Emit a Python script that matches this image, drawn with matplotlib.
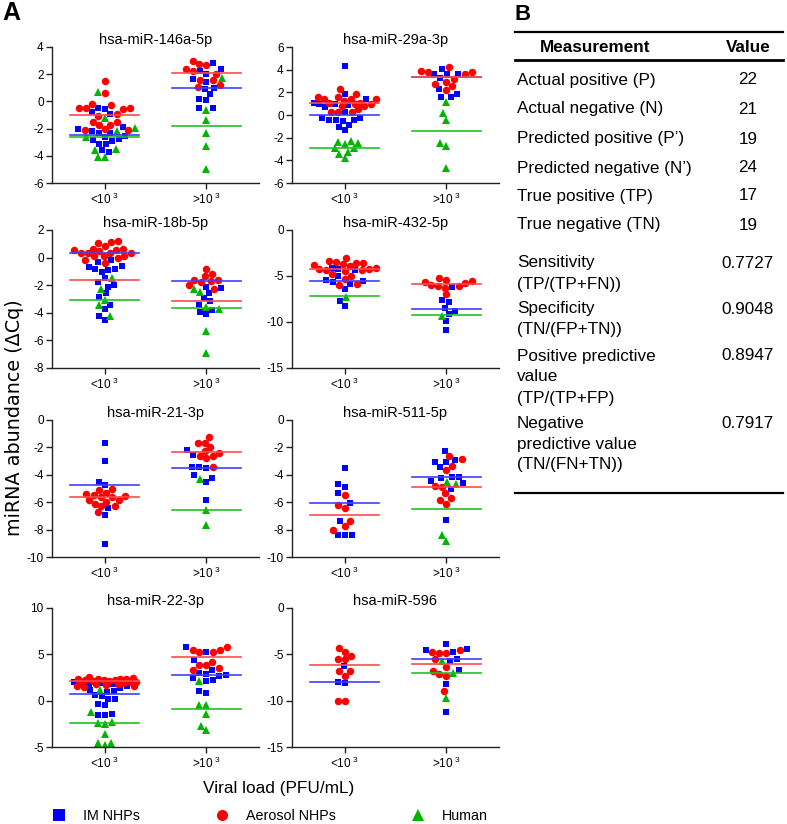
import numpy as np
import matplotlib
matplotlib.use('Agg')
import matplotlib.pyplot as plt
from matplotlib.lines import Line2D

plt.rcParams['font.family'] = ['Liberation Sans', 'DejaVu Sans']
plt.rcParams['mathtext.fontset'] = 'custom'
plt.rcParams['mathtext.rm'] = 'Liberation Sans'
plt.rcParams['mathtext.it'] = 'Liberation Sans:italic'
plt.rcParams['mathtext.bf'] = 'Liberation Sans:bold'
plt.rcParams['mathtext.default'] = 'regular'
plt.rcParams['axes.unicode_minus'] = False

# ---------------- data ----------------
group_labels = ['<10$^{\\ 3}$', '>10$^{\\ 3}$']
series_names = ['IM NHPs', 'Aerosol NHPs', 'Human']
titles = ['hsa-miR-146a-5p', 'hsa-miR-29a-3p', 'hsa-miR-18b-5p', 'hsa-miR-432-5p',
          'hsa-miR-21-3p', 'hsa-miR-511-5p', 'hsa-miR-22-3p', 'hsa-miR-596']
ylims = [(-6, 4), (-6, 6), (-8, 2), (-15, 0), (-10, 0), (-10, 0), (-5, 10), (-15, 0)]
ysteps = [2, 2, 2, 5, 2, 2, 5, 5]

# each: (values for <10^3, values for >10^3)
im_146a = ([-0.55, -0.8, -0.9, -0.5, -1.9, -2.05, -2.15, -2.3, -2.3, -2.75, -2.6, -2.55, -3.1, -2.9, -2.85, -3.15, -3.7, -3.6],
           [2.8, 2.4, 2.2, 2.05, 1.45, 1.65, 0.9, 0.95, 0.55, 0.15, 0.1, -0.5, -0.5])
aer_146a = ([1.5, 0.65, -0.5, -0.5, -0.3, -0.2, -0.55, -0.5, -0.9, -1.05, -1.5, -1.55, -1.75, -1.7, -2.0, -2.1, -2.1],
            [2.7, 2.75, 2.95, 2.4, 2.2, 2.05, 1.6, 1.6, 1.05, 1.2])
hum_146a = ([0.7, -1.2, -1.95, -2.6, -2.15, -3.5, -3.6, -4.1, -4.1],
            [1.7, -0.6, -1.35, -2.3, -3.3, -4.95])
mean_146a = [(-2.45, 0.95), (-0.98, 2.12), (-2.6, -1.8)]

im_29a = ([4.35, 1.85, 1.4, 0.9, 0.95, 1.0, 1.1, 0.7, -0.25, -0.4, 0.25, -0.45, -0.85, -0.5, -0.4, -0.25, -1.05, -1.35],
          [4.05, 3.6, 3.65, 3.3, 3.6, 1.85, 1.55, 2.25, 1.6])
aer_29a = ([1.45, 1.4, 0.8, 1.1, 1.1, 1.6, 1.0, 1.6, 1.85, 2.25, 1.25, 1.4, 0.8, 0.5, 0.3, 0.25, 0.3, 1.0],
           [3.8, 3.65, 3.15, 3.75, 3.85, 4.2, 2.55, 2.2, 2.95, 2.75])
hum_29a = ([-2.3, -2.45, -3.25, -2.95, -2.95, -3.4, -3.8, -2.6, -2.35],
           [1.15, 0.15, -0.4, -2.5, -2.75, -4.7])
mean_29a = [(-0.02, 3.35), (1.06, 3.38), (-2.95, -1.44)]

im_18b = ([-0.2, -0.65, -0.85, -1.05, -0.9, -0.8, -0.6, -0.3, -1.5, -1.8, -2.1, -2.0, -2.6, -2.85, -3.4, -3.7, -4.2, -4.5],
          [-2.2, -2.1, -2.6, -3.15, -2.95, -3.4, -3.8, -4.1, -3.95])
aer_18b = ([1.2, 1.05, 1.1, 0.85, 0.65, 0.5, 0.55, 0.55, 0.65, 0.35, 0.35, 0.35, 0.3, 0.15, -0.05, -0.2, 0.1, 0.1, -0.4],
           [-0.8, -1.35, -1.2, -1.6, -1.7, -1.75, -1.65, -1.95, -2.25])
hum_18b = ([-1.45, -2.25, -3.1, -3.45, -4.2],
           [-2.25, -2.5, -3.55, -3.75, -5.3, -6.9])
mean_18b = [(0.33, -1.7), (-1.65, -3.13), (-3.1, -3.65)]

im_432 = ([-4.35, -4.1, -4.25, -5.05, -5.5, -5.45, -5.7, -5.9, -6.45, -7.7, -8.25],
          [-6.15, -7.65, -7.8, -8.45, -8.75, -9.1, -9.9, -10.9])
aer_432 = ([-3.0, -3.45, -3.6, -3.8, -3.9, -3.7, -3.6, -3.4, -4.25, -4.35, -4.25, -4.15, -4.75, -4.45, -4.35, -5.0, -5.3, -5.9, -5.95],
           [-5.4, -5.65, -5.95, -6.1, -6.25, -5.25, -6.1, -5.75, -5.55, -7.0])
hum_432 = ([-7.25], [-9.3])
mean_432 = [(-5.5, -8.55), (-4.25, -5.9), (-7.2, -9.25)]

im_21 = ([-1.65, -3.0, -4.5, -4.75, -6.45, -6.9, -9.05],
         [-2.2, -2.55, -3.45, -3.5, -3.4, -4.0, -4.25, -4.5, -5.85])
aer_21 = ([-5.3, -5.45, -5.6, -5.0, -5.65, -5.55, -5.4, -5.1, -5.85, -6.1, -6.3, -6.25, -5.95, -5.85, -6.75],
          [-1.25, -1.65, -1.65, -1.95, -2.25, -2.6, -2.75, -2.6, -2.4, -3.45])
hum_21 = ([], [-4.3, -6.55, -7.7])
mean_21 = [(-4.75, -3.5), (-5.65, -2.35), (None, -6.55)]

im_511 = ([-3.5, -4.7, -4.9, -5.35, -6.05, -7.4, -8.4, -8.4, -8.4],
          [-2.25, -2.9, -3.1, -3.05, -3.45, -4.15, -4.15, -4.2, -4.45, -4.6, -5.0, -7.3])
aer_511 = ([-5.45, -6.4, -6.2, -7.4, -7.75, -8.0],
           [-2.65, -2.85, -3.35, -3.65, -4.85, -4.9, -5.35, -5.7, -5.85, -6.1])
hum_511 = ([], [-4.5, -4.7, -8.8, -8.4])
mean_511 = [(-6.07, -4.13), (-6.9, -4.9), (None, -6.5)]

im_22 = ([2.0, 1.85, 1.75, 1.55, 1.9, 1.0, 0.6, 0.95, 1.1, 1.35, 0.2, 0.45, 0.2, -0.45, -0.35, -1.5, -1.6, -1.45],
         [5.25, 5.75, 4.35, 3.35, 2.9, 2.65, 3.0, 2.75, 2.25, 2.1, 2.5, 1.0, 0.85])
aer_22 = ([2.3, 2.3, 2.25, 2.2, 2.1, 2.0, 1.9, 1.75, 1.6, 1.5, 1.55, 1.7, 1.85, 1.95, 2.05, 2.15, 2.2, 2.3, 2.3, 2.55, 2.45],
          [5.75, 5.5, 5.25, 5.3, 5.5, 4.15, 3.55, 3.8, 3.9, 3.35])
hum_22 = ([1.2, -1.25, -2.35, -2.5, -2.4, -3.55, -4.55, -4.8, -4.55],
          [2.15, -0.45, -0.45, -1.4, -2.75, -3.2])
mean_22 = [(0.76, 2.77), (2.16, 4.68), (-2.41, -0.9)]

im_596 = ([-6.3, -7.95, -8.1],
          [-3.9, -4.5, -4.45, -4.8, -5.55, -5.7, -6.65, -8.2, -11.2])
aer_596 = ([-4.3, -4.75, -5.5, -5.55, -5.2, -6.85, -6.75, -7.3, -10.0, -10.0],
           [-4.8, -4.9, -4.9, -4.55, -5.55, -6.75, -7.1, -6.35, -7.3, -9.0])
hum_596 = ([], [-5.75, -7.05, -9.7])
mean_596 = [(-7.95, -5.55), (-6.15, -6.0), (None, -7.0)]

panels = [
    (im_146a, aer_146a, hum_146a, mean_146a),
    (im_29a, aer_29a, hum_29a, mean_29a),
    (im_18b, aer_18b, hum_18b, mean_18b),
    (im_432, aer_432, hum_432, mean_432),
    (im_21, aer_21, hum_21, mean_21),
    (im_511, aer_511, hum_511, mean_511),
    (im_22, aer_22, hum_22, mean_22),
    (im_596, aer_596, hum_596, mean_596),
]

table_measure = ['Actual positive (P)', 'Actual negative (N)', 'Predicted positive (P\u2019)',
                 'Predicted negative (N\u2019)', 'True positive (TP)', 'True negative (TN)',
                 'Sensitivity\n(TP/(TP+FN))', 'Specificity\n(TN/(FP+TN))',
                 'Positive predictive\nvalue\n(TP/(TP+FP)', 'Negative\npredictive value\n(TN/(FN+TN))']
table_value = ['22', '21', '19', '24', '17', '19', '0.7727', '0.9048', '0.8947', '0.7917']

# ---------------- styles ----------------
W, H = 787, 824
marker_col = ['#0000ff', '#ff0000', '#00b400']
line_col = ['#4040ff', '#ff4a4a', '#22c022']
markers = ['s', 'o', '^']
msizes = [4.9, 5.4, 5.3]


def fx(x):
    return x / W


def fy(y):
    return 1 - y / H


def swarm(vals, ypx, xpx, d=7.0, maxw=31.0):
    """Beeswarm offsets (data x units) computed in pixel space, capped width."""
    vals = np.asarray(vals, dtype=float)
    xs = np.zeros(len(vals))
    placed = []
    grid = np.linspace(-maxw, maxw, 63)
    for i in np.argsort(vals, kind='stable'):
        y = vals[i] * ypx
        forb = []
        for (px, py) in placed:
            dy = abs(py - y)
            if dy < d:
                w = np.sqrt(d * d - dy * dy)
                forb.append((px - w, px + w))
        cands = [0.0] + [a for a, b in forb] + [b for a, b in forb]
        cands = [c for c in cands if abs(c) <= maxw + 1e-9]
        cands.sort(key=lambda c: (abs(c), c))
        chosen = None
        for c in cands:
            if all(not (a + 1e-6 < c < b - 1e-6) for a, b in forb):
                chosen = c
                break
        if chosen is None:
            best, bestd = 0.0, -1
            for c in grid:
                md = min(np.hypot(c - px, y - py) for (px, py) in placed)
                if md > bestd + 1e-9 or (abs(md - bestd) < 1e-9 and abs(c) < abs(best)):
                    best, bestd = c, md
            chosen = best
        xs[i] = chosen
        placed.append((chosen, y))
    return xs / xpx


fig = plt.figure(figsize=(W / 100, H / 100), dpi=100)

col_left = [52, 292]
ax_w = 207
row_top = [47, 230, 420, 608]
row_h = [136, 138, 137, 139]
xlim = (-0.52, 1.52)
xpx = ax_w / (xlim[1] - xlim[0])

for k, (im, aer, hum, means) in enumerate(panels):
    r, c = divmod(k, 2)
    ax = fig.add_axes([fx(col_left[c]), fy(row_top[r] + row_h[r]), fx(ax_w), row_h[r] / H])
    ymin, ymax = ylims[k]
    ypx = row_h[r] / (ymax - ymin)
    for g in range(2):
        allv = list(im[g]) + list(aer[g]) + list(hum[g])
        if not allv:
            continue
        offs = swarm(allv, ypx, xpx)
        n0, n1 = len(im[g]), len(aer[g])
        parts = [(0, im[g], offs[:n0]), (1, aer[g], offs[n0:n0 + n1]), (2, hum[g], offs[n0 + n1:])]
        for s, v, o in parts:
            if len(v) == 0:
                continue
            ax.plot(g + o, v, linestyle='none', marker=markers[s], color=marker_col[s],
                    markersize=msizes[s], markeredgewidth=0, zorder=2 + s * 0.1)
        for s in range(3):
            m = means[s][g]
            if m is None:
                continue
            ax.plot([g - 0.34, g + 0.34], [m, m], color=line_col[s], lw=1.2, zorder=4)
    ax.set_xlim(*xlim)
    ax.set_ylim(ymin, ymax)
    ticks = np.arange(ymin, ymax + 0.01, ysteps[k])
    ax.set_yticks(ticks)
    ax.set_yticklabels([str(int(t)) for t in ticks])
    ax.set_xticks([0, 1])
    ax.set_xticklabels(group_labels)
    for sp in ['top', 'right']:
        ax.spines[sp].set_visible(False)
    for sp in ['left', 'bottom']:
        ax.spines[sp].set_linewidth(1.0)
        ax.spines[sp].set_color('#222222')
    ax.tick_params(axis='both', labelsize=8.5, length=4, width=1.0, color='#222222', pad=2)
    ax.set_title(titles[k], fontsize=10.5, pad=2)

fig.text(fx(15), fy(418), 'miRNA abundance (\u0394Cq)', rotation=90, ha='center', va='center',
         fontsize=13.8, family=['DejaVu Sans'])
fig.text(fx(279), fy(788), 'Viral load (PFU/mL)', ha='center', va='center', fontsize=12.4)
fig.text(fx(2), fy(1), 'A', ha='left', va='top', fontsize=18, fontweight='bold')
fig.text(fx(514), fy(4), 'B', ha='left', va='top', fontsize=16, fontweight='bold')

handles = [Line2D([], [], linestyle='none', marker=markers[s], color=marker_col[s],
                  markersize=8, markeredgewidth=0) for s in range(3)]
fig.legend(handles, series_names, loc='center left', bbox_to_anchor=(fx(52), fy(816)),
           ncol=3, frameon=False, fontsize=10.3, handlelength=1.0, handletextpad=1.2,
           columnspacing=5.2, borderpad=0, borderaxespad=0)

# ---------------- table B ----------------
tx0, tx1 = 515, 783
for yy, lw in [(32, 1.6), (60, 2.0), (493, 1.6)]:
    fig.add_artist(Line2D([fx(tx0), fx(tx1)], [fy(yy), fy(yy)], color='black', lw=lw,
                          transform=fig.transFigure))
fig.text(fx(595), fy(47), 'Measurement', ha='center', va='center', fontsize=12.3, fontweight='bold')
fig.text(fx(748), fy(47), 'Value', ha='center', va='center', fontsize=12.3, fontweight='bold')
row_y = [80, 109, 139, 168, 196, 225, 263, 309, 356, 423]
line_pitch = 21
for lab, val, y0 in zip(table_measure, table_value, row_y):
    for j, ln in enumerate(lab.split('\n')):
        fig.text(fx(517), fy(y0 + j * line_pitch), ln, ha='left', va='center', fontsize=12.3)
    fig.text(fx(748), fy(y0), val, ha='center', va='center', fontsize=12.3)

fig.savefig('out.png', dpi=100)
